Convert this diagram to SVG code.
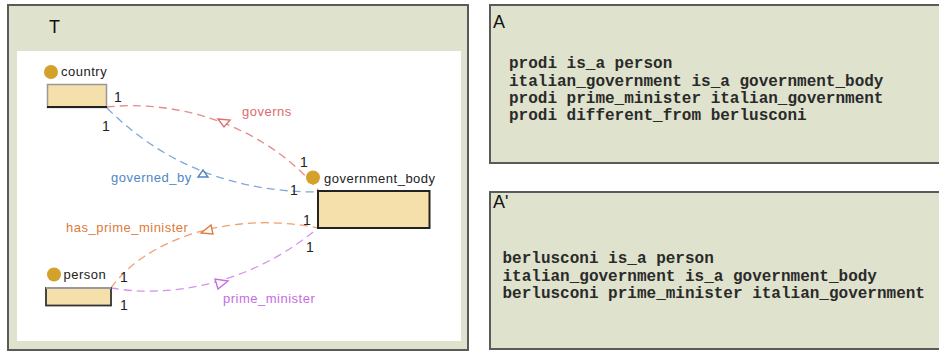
<svg xmlns="http://www.w3.org/2000/svg" width="939" height="352" viewBox="0 0 939 352">
<style>
.panel{fill:#dfe2cd;stroke:#5a5a5a;stroke-width:2}
.lbl{font-family:"Liberation Sans",Arial,sans-serif;font-size:13px;letter-spacing:0.5px;fill:#222}
.num{font-family:"Liberation Sans",Arial,sans-serif;font-size:14px;fill:#222}
.title{font-family:"Liberation Sans",Arial,sans-serif;font-size:18px;fill:#111}
.code{font-family:"Liberation Mono","Courier New",monospace;font-size:16px;font-weight:bold;fill:#2a2a2a}
.dot{fill:#d4a12a}
.box{fill:#f5dfaa}
.edge{fill:none;stroke-width:1.3;stroke-dasharray:8 5}
.tri{fill:#fff;stroke-width:1.4}
.red{stroke:#e88a8a}
.blue{stroke:#7ea8d8}
.orange{stroke:#eea071}
.purple{stroke:#d591ee}
</style>

<g id="panel-T">
<rect class="panel" x="8" y="5" width="460" height="345"/>
<rect x="17" y="51" width="444" height="290" fill="#ffffff"/>
<text class="title" x="49" y="33">T</text>
</g>

<g id="connectors">
<path class="edge red" d="M107,107 C170,100 260,120 319,191"/>
<path class="edge blue" d="M107,108 Q191,192 318,192"/>
<path class="edge orange" d="M111,288 C145,240 230,210 318,228"/>
<path class="edge purple" d="M111,288 C170,298 250,285 318,228"/>
<polygon class="tri" stroke="#e07070" points="218,119 230,120 224,127"/>
<polygon class="tri" stroke="#4f86c6" points="198,177 208,177 203,170"/>
<polygon class="tri" stroke="#e07a3a" points="201,233 211,225 213,234"/>
<polygon class="tri" stroke="#c46ee0" points="215,279 218,289 228,281"/>
<text class="lbl" x="242" y="116" style="fill:#dc6b6b">governs</text>
<text class="lbl" x="111" y="182" style="fill:#4f86c6">governed_by</text>
<text class="lbl" x="66" y="232" style="fill:#e07a3a">has_prime_minister</text>
<text class="lbl" x="223" y="303" style="fill:#c46ee0">prime_minister</text>
<text class="num" x="114" y="102">1</text>
<text class="num" x="102" y="131">1</text>
<text class="num" x="300" y="167">1</text>
<text class="num" x="290" y="195">1</text>
<text class="num" x="303" y="225">1</text>
<text class="num" x="306" y="252">1</text>
<text class="num" x="120" y="282">1</text>
<text class="num" x="120" y="310">1</text>
</g>

<g id="node-country">
<rect class="box" x="47.5" y="84.5" width="59" height="23" stroke="#999" stroke-width="1.5"/>
<line x1="47" y1="107" x2="107" y2="107" stroke="#222" stroke-width="2"/>
<circle class="dot" cx="51" cy="72" r="7"/>
<text class="lbl" x="61" y="76">country</text>
</g>

<g id="node-government_body">
<rect class="box" x="318" y="191" width="111.5" height="37" stroke="#222" stroke-width="2"/>
<circle class="dot" cx="313" cy="177.5" r="7"/>
<text class="lbl" x="324" y="183">government_body</text>
</g>

<g id="node-person">
<rect class="box" x="46" y="288" width="65" height="17.5" stroke="#333" stroke-width="1.8"/>
<line x1="46" y1="288" x2="111" y2="288" stroke="#999" stroke-width="1.8"/>
<circle class="dot" cx="54" cy="274.5" r="7"/>
<text class="lbl" x="63.5" y="279">person</text>
</g>

<g id="panel-A">
<rect class="panel" x="490" y="5" width="460" height="158"/>
<text class="title" x="493" y="28">A</text>
<text class="code" x="509" y="68">prodi is_a person</text>
<text class="code" x="509" y="86">italian_government is_a government_body</text>
<text class="code" x="509" y="103">prodi prime_minister italian_government</text>
<text class="code" x="509" y="120">prodi different_from berlusconi</text>
</g>

<g id="panel-A-prime">
<rect class="panel" x="490" y="192" width="460" height="157"/>
<text class="title" x="493" y="208">A'</text>
<text class="code" x="502.5" y="263">berlusconi is_a person</text>
<text class="code" x="502.5" y="281">italian_government is_a government_body</text>
<text class="code" x="502.5" y="298">berlusconi prime_minister italian_government</text>
</g>
</svg>
